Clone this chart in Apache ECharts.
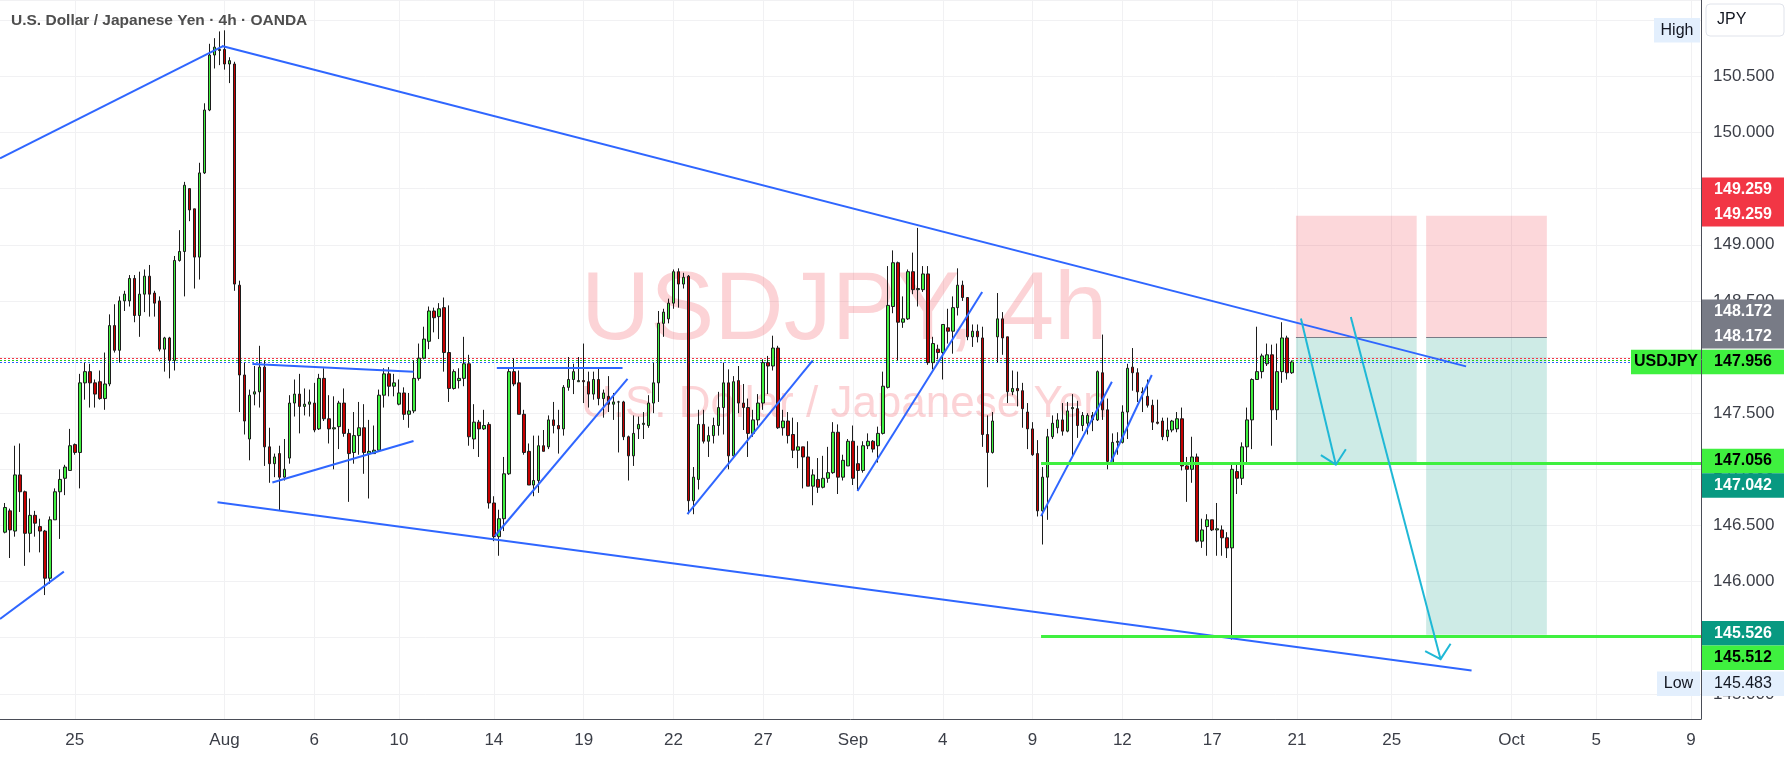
<!DOCTYPE html>
<html>
<head>
<meta charset="utf-8">
<script src="https://cdn.jsdelivr.net/npm/echarts@6/dist/echarts.min.js"></script>
<style>
  html, body { margin: 0; padding: 0; background: #fff; }
  #chart { width: 1788px; height: 759px; }
</style>
</head>
<body>
<div id="chart"></div>
<script>
// USDJPY 4h candles, 2025-07-22 17:00 .. 2025-09-19 17:00
const open = [
  146.44,146.63,146.45,146.95,146.80,146.43,146.59,146.49,146.45,146.03,
  146.55,146.80,146.92,146.99,147.22,147.15,147.77,147.87,147.77,147.78,
  147.63,147.76,148.28,148.06,148.50,148.50,148.70,148.37,148.56,148.72,
  148.57,148.50,148.07,148.17,147.97,148.86,148.94,149.50,149.32,148.89,
  149.64,150.20,150.69,150.73,150.74,150.61,150.61,148.64,147.84,147.27,
  147.67,147.69,147.91,147.20,147.05,147.14,146.93,147.10,147.59,147.67,
  147.56,147.58,147.59,147.36,147.81,147.45,147.36,147.38,147.59,147.32,
  147.15,147.30,147.37,147.14,147.14,147.17,147.66,147.85,147.74,147.58,
  147.68,147.49,147.52,147.81,147.99,148.14,148.41,148.36,148.44,148.04,
  147.72,147.79,147.81,147.94,147.27,147.42,147.36,147.40,146.70,146.40,
  146.56,146.96,147.87,147.77,147.49,147.16,146.86,146.90,147.21,147.20,
  147.44,147.39,147.36,147.73,147.80,147.78,147.79,147.78,147.67,147.80,
  147.63,147.65,147.58,147.60,147.60,147.29,147.12,147.36,147.40,147.39,
  147.59,147.77,148.30,148.34,148.48,148.76,148.65,148.72,146.72,146.91,
  147.40,147.25,147.30,147.39,147.55,147.77,147.12,147.79,147.59,147.55,
  147.32,147.44,147.59,147.95,147.92,148.08,147.37,147.43,147.31,147.17,
  147.20,147.11,146.85,146.91,146.84,146.92,146.97,147.33,146.93,147.03,
  147.25,147.05,146.99,147.21,147.25,147.21,147.32,147.73,148.45,148.84,
  148.31,148.34,148.76,148.60,148.60,148.74,147.95,148.07,148.04,148.26,
  148.23,148.44,148.64,148.53,148.18,148.23,148.17,147.31,147.15,148.18,
  148.34,148.18,147.69,147.72,147.70,147.51,147.36,147.14,146.63,146.93,
  147.29,147.37,147.44,147.34,147.54,147.54,147.39,147.41,147.48,147.44,
  147.86,147.53,147.06,147.24,147.24,147.51,147.91,147.86,147.69,147.65,
  147.57,147.42,147.43,147.29,147.35,147.36,147.45,147.03,147.00,147.11,
  146.36,146.49,146.55,146.46,146.46,146.39,146.30,146.98,146.92,147.20,
  147.44,147.80,147.87,147.94,148.02,147.53,147.87,148.17,147.86
];
const high = [
  146.70,146.65,147.21,147.23,146.81,146.74,146.63,146.56,146.46,146.58,
  146.83,147.00,147.04,147.36,147.23,147.85,147.95,147.94,147.80,147.88,
  148.04,148.38,148.47,148.54,148.59,148.73,148.73,148.76,148.78,148.82,
  148.59,148.54,148.18,148.18,148.90,149.13,149.56,149.50,149.32,149.73,
  150.26,150.79,150.84,150.90,150.91,150.67,150.63,148.68,147.95,147.71,
  147.92,148.10,147.97,147.37,147.14,147.21,147.27,147.66,147.80,147.85,
  147.72,147.71,147.77,147.85,147.90,147.66,147.65,147.61,147.72,147.36,
  147.51,147.60,147.58,147.44,147.39,147.71,147.90,147.91,147.85,147.80,
  147.73,147.68,147.97,148.12,148.27,148.45,148.44,148.48,148.53,148.46,
  147.89,147.90,148.18,148.02,147.58,147.44,147.53,147.42,146.76,146.64,
  147.11,147.90,147.99,147.88,147.53,147.23,147.30,147.30,147.35,147.48,
  147.60,147.53,147.75,148.00,147.94,148.00,148.12,147.87,147.87,147.91,
  147.71,147.83,147.68,147.61,147.61,147.30,147.48,147.47,147.51,147.66,
  147.95,148.41,148.43,148.52,148.78,148.79,148.75,148.73,147.02,147.53,
  147.53,147.38,147.46,147.69,147.95,147.89,147.83,147.92,147.76,147.63,
  147.53,147.67,147.98,148.01,148.19,148.10,147.53,147.51,147.46,147.42,
  147.20,147.25,147.00,147.10,147.12,147.20,147.42,147.40,147.13,147.27,
  147.39,147.21,147.25,147.32,147.26,147.38,147.87,148.81,148.95,148.85,
  148.54,148.78,148.93,149.15,148.81,148.81,148.18,148.11,148.29,148.43,
  148.54,148.79,148.68,148.53,148.29,148.29,148.27,147.48,147.51,148.57,
  148.40,148.18,147.88,147.87,147.77,147.59,147.42,147.26,147.02,147.36,
  147.48,147.50,147.59,147.60,147.67,147.61,147.51,147.50,147.51,147.88,
  148.20,147.63,147.32,147.33,147.57,147.94,148.08,147.90,147.73,147.80,
  147.62,147.62,147.46,147.46,147.44,147.51,147.55,147.11,147.29,147.14,
  146.56,146.60,146.55,146.70,146.50,146.44,147.06,147.05,147.24,147.55,
  147.81,148.27,148.03,148.12,148.11,148.12,148.31,148.19,147.97
];
const low = [
  146.43,146.21,146.40,146.62,146.14,146.26,146.40,146.26,145.88,145.98,
  146.55,146.38,146.77,146.99,147.13,146.83,147.62,147.55,147.55,147.62,
  147.53,147.74,148.04,147.95,148.41,148.45,148.31,148.18,148.40,148.36,
  148.36,148.05,147.87,147.81,147.88,148.85,148.54,149.21,148.61,148.69,
  149.63,150.19,150.57,150.60,150.56,150.44,148.59,147.51,147.31,147.08,
  147.57,147.55,147.03,146.88,146.93,146.63,146.90,147.05,147.47,147.32,
  147.48,147.47,147.33,147.35,147.43,147.23,147.00,147.18,147.29,146.71,
  147.05,147.13,146.96,146.74,147.14,147.16,147.55,147.65,147.65,147.57,
  147.44,147.37,147.50,147.79,147.98,148.07,148.22,148.16,147.87,147.60,
  147.71,147.72,147.74,147.21,147.18,147.11,147.35,146.65,146.36,146.23,
  146.45,146.95,147.74,147.49,147.13,146.86,146.76,146.79,147.16,147.18,
  147.32,147.14,147.30,147.70,147.67,147.78,147.59,147.55,147.62,147.57,
  147.46,147.51,147.44,147.15,147.26,146.90,147.03,147.27,147.27,147.37,
  147.50,147.60,148.18,148.30,148.43,148.44,148.61,146.60,146.60,146.82,
  147.23,147.11,147.23,147.30,147.31,147.00,147.11,147.50,147.35,147.11,
  147.29,147.39,147.53,147.67,147.88,147.36,147.30,147.23,147.10,147.01,
  146.83,146.85,146.68,146.79,146.83,146.88,146.96,146.78,146.90,147.03,
  146.86,146.81,146.97,147.18,147.15,147.06,147.31,147.72,148.39,147.97,
  148.26,148.33,148.56,148.45,148.58,147.93,147.89,147.98,147.80,148.12,
  148.03,148.37,148.50,148.15,148.09,148.13,147.20,146.84,147.14,147.95,
  148.02,147.59,147.66,147.56,147.37,147.18,147.12,146.58,146.33,146.55,
  147.27,147.32,147.30,147.33,147.11,147.28,147.34,147.31,147.34,147.43,
  147.44,147.00,147.05,147.13,147.23,147.27,147.70,147.60,147.51,147.55,
  147.35,147.40,147.26,147.25,147.33,147.33,146.99,146.71,146.88,146.35,
  146.30,146.23,146.45,146.23,146.23,146.21,145.483,146.78,146.86,147.05,
  147.18,147.80,147.81,147.92,147.21,147.44,147.77,147.80,147.85
];
const close = [
  146.66,146.46,146.95,146.80,146.43,146.59,146.52,146.45,146.03,146.55,
  146.80,146.91,147.02,147.21,147.15,147.77,147.87,147.77,147.67,147.63,
  147.76,148.28,148.06,148.50,148.56,148.70,148.37,148.56,148.72,148.56,
  148.48,148.07,148.17,147.97,148.86,148.94,149.53,149.31,148.89,149.64,
  150.20,150.69,150.76,150.74,150.61,150.64,148.65,147.84,147.43,147.66,
  147.69,147.91,147.20,147.05,147.11,146.93,147.00,147.59,147.67,147.56,
  147.58,147.60,147.35,147.81,147.45,147.36,147.37,147.59,147.32,147.14,
  147.30,147.37,147.15,147.16,147.17,147.66,147.85,147.74,147.77,147.68,
  147.49,147.52,147.81,147.99,148.16,148.41,148.35,148.43,148.04,147.72,
  147.87,147.81,147.94,147.29,147.42,147.36,147.39,146.70,146.40,146.56,
  146.96,147.87,147.76,147.49,147.15,146.86,146.90,147.21,147.16,147.44,
  147.39,147.36,147.73,147.80,147.87,147.79,147.78,147.67,147.80,147.63,
  147.68,147.58,147.60,147.60,147.29,147.12,147.32,147.40,147.41,147.59,
  147.77,148.30,148.40,148.48,148.76,148.65,148.71,146.72,146.93,147.40,
  147.25,147.30,147.39,147.55,147.77,147.12,147.78,147.59,147.55,147.32,
  147.44,147.59,147.95,147.92,148.08,147.37,147.43,147.30,147.17,147.20,
  147.11,146.85,146.95,146.84,146.92,146.97,147.33,146.93,147.08,147.25,
  146.92,146.99,147.21,147.25,147.18,147.32,147.74,148.46,148.84,148.31,
  148.34,148.76,148.60,148.61,148.74,147.95,148.12,148.04,148.29,148.23,
  148.44,148.64,148.53,148.18,148.23,148.18,147.31,147.15,147.43,148.34,
  148.17,147.69,147.72,147.70,147.54,147.36,147.13,146.63,146.93,147.29,
  147.41,147.44,147.34,147.52,147.55,147.39,147.48,147.48,147.44,147.87,
  147.53,147.07,147.24,147.25,147.51,147.90,147.86,147.69,147.68,147.57,
  147.42,147.41,147.29,147.35,147.43,147.45,147.03,147.00,147.11,146.36,
  146.46,146.55,146.46,146.47,146.39,146.30,147.00,146.92,147.20,147.44,
  147.80,147.87,148.01,148.02,147.53,147.87,148.17,147.86,147.956
];

// time axis labels
const tickDays = ['2025-07-25','2025-08-01','2025-08-06','2025-08-10','2025-08-14','2025-08-19',
  '2025-08-22','2025-08-27','2025-09-01','2025-09-04','2025-09-09','2025-09-12','2025-09-17',
  '2025-09-21','2025-09-25','2025-10-01','2025-10-05','2025-10-09'];
const tickText = ['25','Aug','6','10','14','19','22','27','Sep','4','9','12','17','21','25','Oct','5','9'];

// drawings, [bar slot, price]
const trendLines = [
  [[0, 145.667], [12.8, 146.089]],
  [[0, 149.77], [44.7, 150.77]],
  [[44.5, 150.77], [293.9, 147.917]],
  [[43.6, 146.706], [295.0, 145.209]],
  [[50.6, 147.938], [82.9, 147.868]],
  [[54.6, 146.882], [82.9, 147.252]],
  [[99.6, 147.903], [124.8, 147.903]],
  [[99.2, 146.406], [125.8, 147.805]],
  [[137.8, 146.60], [162.9, 147.967]],
  [[171.9, 146.807], [196.9, 148.58]],
  [[208.7, 146.583], [222.9, 147.78]],
  [[222.7, 147.065], [230.9, 147.84]]
];
const levelLines = [147.056, 145.512];
const levelStart = 208.7;
const arrowShafts = [
  [[260.8, 148.344], [267.8, 147.041]],
  [[270.8, 148.357], [288.8, 145.309]]
];
const arrowHeads = [
  [[264.8, 147.127], [267.8, 147.041], [269.8, 147.179]],
  [[285.7, 145.38], [288.8, 145.309], [290.8, 145.446]]
];
// short positions: [from slot, to slot, entry, stop, target]
const positions = [
  [259.8, 284.0, 148.172, 149.259, 147.042],
  [285.9, 310.1, 148.172, 149.259, 145.526]
];
const lastPrice = 147.956;

// build 4h slots (OANDA session: Sun 21:00, Mon-Thu 6 bars, Fri 5 bars)
const slots = [];
const day = new Date(Date.UTC(2025, 6, 22));
while (slots.length < 360) {
  const dow = day.getUTCDay();
  const hours = dow === 6 ? [] : dow === 0 ? [21] : dow === 5 ? [1, 5, 9, 13, 17] : [1, 5, 9, 13, 17, 21];
  const ds = day.toISOString().slice(0, 10);
  hours.forEach(h => slots.push(ds + ' ' + String(h).padStart(2, '0') + ':00'));
  day.setUTCDate(day.getUTCDate() + 1);
}
const times = slots.slice(3, 3 + 342);
const tickAt = new Map();
times.forEach((t, k) => {
  const d = t.slice(0, 10);
  const i = tickDays.indexOf(d);
  if (i >= 0 && (k === 0 || times[k - 1].slice(0, 10) !== d)) tickAt.set(k, tickText[i]);
});

const ohlc = ['-'].concat(open.map((o, i) => [o, close[i], low[i], high[i]]));
const lastK = times.length - 1;

const FONT = "'Liberation Sans', Arial, sans-serif";
const GREEN = '#3ff03f';
const chart = echarts.init(document.getElementById('chart'));

const option = {
  animation: false,
  backgroundColor: '#ffffff',
  grid: { left: 0, right: 87, top: 0, bottom: 40 },
  xAxis: [
    {
      type: 'category', data: times, boundaryGap: false,
      axisLine: { onZero: false, lineStyle: { color: '#4a4d57', width: 1 } },
      axisTick: { show: false },
      axisLabel: {
        interval: (k) => tickAt.has(k),
        formatter: (v, k) => tickAt.get(k) || '',
        color: '#3b3e47', fontSize: 17, fontFamily: FONT, margin: 13
      },
      splitLine: { show: true, interval: (k) => tickAt.has(k), lineStyle: { color: '#f1f1f3' } }
    },
    { type: 'value', min: 0, max: lastK, show: false }
  ],
  yAxis: {
    type: 'value', position: 'right', min: 144.776, max: 151.18,
    splitNumber: 13, minInterval: 0.5, maxInterval: 0.5,
    axisLine: { show: true, onZero: false, lineStyle: { color: '#4a4d57' } },
    axisTick: { show: false },
    axisLabel: {
      formatter: v => v.toFixed(3), color: '#3b3e47', fontSize: 17, fontFamily: FONT,
      margin: 12, showMinLabel: false, showMaxLabel: false
    },
    splitLine: { show: true, lineStyle: { color: '#f1f1f3' } }
  },
  series: [
    {
      type: 'lines', coordinateSystem: 'cartesian2d', xAxisIndex: 1, yAxisIndex: 0,
      silent: true, z: 1,
      lineStyle: { color: '#787b86', width: 1, opacity: 1 },
      data: positions.map(p => ({ coords: [[p[0], p[2]], [p[1], p[2]]] })),
      markArea: {
        silent: true,
        data: positions.flatMap(p => [
          [{ coord: [p[0], p[3]], itemStyle: { color: 'rgba(242,54,69,0.2)' } }, { coord: [p[1], p[2]] }],
          [{ coord: [p[0], p[2]], itemStyle: { color: 'rgba(8,153,129,0.2)' } }, { coord: [p[1], p[4]] }]
        ])
      }
    },
    {
      type: 'lines', coordinateSystem: 'cartesian2d', xAxisIndex: 1, yAxisIndex: 0,
      silent: true, z: 1,
      data: [
        { coords: [[0, lastPrice + 0.03], [326.8, lastPrice + 0.03]], lineStyle: { color: '#f23645' } },
        { coords: [[0, lastPrice + 0.012], [326.8, lastPrice + 0.012]], lineStyle: { color: '#22c922' } },
        { coords: [[0, lastPrice - 0.006], [326.8, lastPrice - 0.006]], lineStyle: { color: '#2962ff' } }
      ],
      lineStyle: { width: 1, type: [2, 2], opacity: 1 }
    },
    {
      type: 'candlestick', xAxisIndex: 0, yAxisIndex: 0, data: ohlc, barWidth: 3, z: 2,
      itemStyle: { color: '#3ff03f', color0: '#c40000', borderColor: '#1c1c1c', borderColor0: '#1c1c1c', borderWidth: 1 }
    },
    {
      type: 'lines', coordinateSystem: 'cartesian2d', xAxisIndex: 1, yAxisIndex: 0,
      silent: true, z: 4,
      lineStyle: { color: '#2f66ff', width: 2, opacity: 1 },
      data: trendLines.map(c => ({ coords: c }))
    },
    {
      type: 'lines', coordinateSystem: 'cartesian2d', xAxisIndex: 1, yAxisIndex: 0,
      silent: true, z: 4,
      lineStyle: { color: GREEN, width: 3, opacity: 1 },
      data: levelLines.map(v => ({ coords: [[levelStart, v], [lastK, v]] }))
    },
    {
      type: 'lines', coordinateSystem: 'cartesian2d', xAxisIndex: 1, yAxisIndex: 0,
      silent: true, z: 5, polyline: true,
      lineStyle: { color: '#1fb8d6', width: 2, opacity: 1 },
      data: arrowShafts.concat(arrowHeads).map(c => ({ coords: c }))
    }
  ]
};
chart.setOption(option);

// watermark, header and price-scale tags
const py = v => chart.convertToPixel({ yAxisIndex: 0 }, v);
const ROW = 24.5;
function tag(x, w, cy, fill, text, color, weight) {
  return [
    {
      type: 'rect', z: 100,
      shape: { x: x, y: cy - ROW / 2, width: w, height: ROW },
      style: { fill: fill }
    },
    {
      type: 'text', z: 101,
      style: {
        text: text, x: x + w / 2, y: cy, fill: color,
        font: (weight || 'normal') + ' 16px ' + FONT,
        textAlign: 'center', textVerticalAlign: 'middle', align: 'center', verticalAlign: 'middle'
      }
    }
  ];
}
const AX = 1702, AW = 82;
const graphics = [
  {
    type: 'text', z: 1, silent: true,
    style: { text: 'USDJPY, 4h', x: 581, y: 361, font: '96px ' + FONT, fill: 'rgba(242,54,69,0.22)', textVerticalAlign: 'bottom', verticalAlign: 'bottom' }
  },
  {
    type: 'text', z: 1, silent: true,
    style: { text: 'U.S. Dollar / Japanese Yen', x: 581, y: 427, font: '44px ' + FONT, fill: 'rgba(242,54,69,0.22)', textVerticalAlign: 'bottom', verticalAlign: 'bottom' }
  },
  {
    type: 'text', z: 100,
    style: { text: 'U.S. Dollar / Japanese Yen · 4h · OANDA', x: 11, y: 21, font: 'bold 15.5px ' + FONT, fill: '#4e4e4e', textVerticalAlign: 'middle', verticalAlign: 'middle' }
  },
  {
    type: 'rect', z: 100,
    shape: { x: 1706, y: 4, width: 78, height: 32, r: 4 },
    style: { fill: '#ffffff', stroke: '#e0e3eb', lineWidth: 1 }
  },
  {
    type: 'text', z: 101,
    style: { text: 'JPY', x: 1717, y: 20, font: '16px ' + FONT, fill: '#131722', textVerticalAlign: 'middle', verticalAlign: 'middle' }
  }
].concat(
  tag(1654, 46, py(150.91), '#e3effd', 'High', '#131722'),
  tag(AX, AW, py(149.259) - 26, '#f23645', '149.259', '#ffffff', 'bold'),
  tag(AX, AW, py(149.259) - 1.5, '#f23645', '149.259', '#ffffff', 'bold'),
  tag(AX, AW, py(148.172) - 26, '#787b86', '148.172', '#ffffff', 'bold'),
  tag(AX, AW, py(148.172) - 1.5, '#787b86', '148.172', '#ffffff', 'bold'),
  tag(1631, 70, py(lastPrice), GREEN, 'USDJPY', '#000000', 'bold'),
  tag(AX, AW, py(lastPrice), GREEN, '147.956', '#000000', 'bold'),
  tag(AX, AW, py(147.056) - 2, GREEN, '147.056', '#000000', 'bold'),
  tag(AX, AW, py(147.056) + 22.5, '#089981', '147.042', '#ffffff', 'bold'),
  tag(AX, AW, py(145.526) - 1.5, '#089981', '145.526', '#ffffff', 'bold'),
  tag(AX, AW, py(145.526) + 23, GREEN, '145.512', '#000000', 'bold'),
  tag(1657, 43, py(145.526) + 49, '#e3effd', 'Low', '#131722'),
  tag(AX, AW, py(145.526) + 49, '#e3effd', '145.483', '#131722')
);
chart.setOption({ graphic: graphics });
</script>
</body>
</html>
